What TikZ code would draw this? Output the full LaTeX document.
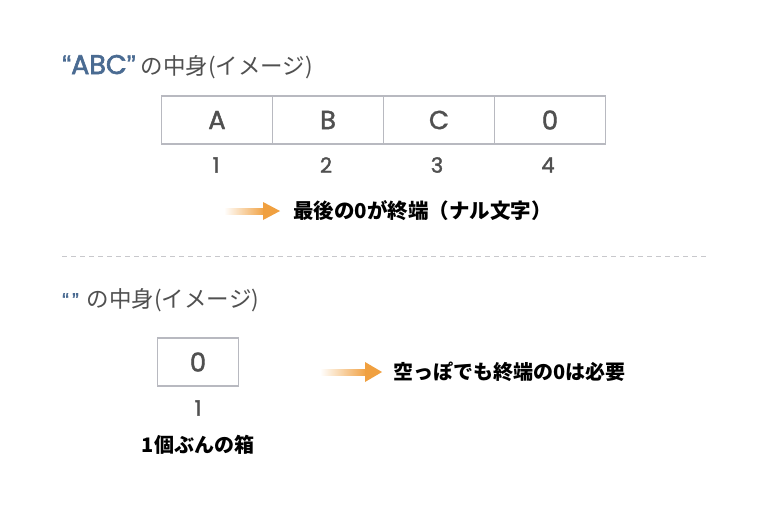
\documentclass[tikz,border=0pt]{standalone}
\usepackage{fontspec}
\setmainfont{Noto Sans CJK JP}
\newfontfamily\lat{Poppins}[FakeBold=1.6]
\newfontfamily\latb{Poppins}[FakeBold=2.2]
\newfontfamily\quo{Liberation Sans}[FakeBold=1.2]
\usetikzlibrary{calc}
\definecolor{tblue}{HTML}{4A6B92}
\definecolor{tgray}{HTML}{505050}
\definecolor{bgray}{HTML}{B8B9C0}
\definecolor{aorange}{HTML}{F0A040}
\definecolor{dgray}{HTML}{C8C8CC}
\tikzset{
  cell/.style={draw=bgray, line width=1.3pt, fill=white, minimum width=111pt, minimum height=48pt, inner sep=0pt, font=\lat\fontsize{26}{26}\selectfont, text=tgray},
  idx/.style={font=\lat\fontsize{21}{21}\selectfont, text=tgray, inner sep=0pt},
  note/.style={font=\bfseries\fontsize{20.5}{20.5}\selectfont, text=black, inner sep=0pt, anchor=west},
  ttl/.style={font=\fontsize{22.5}{22.5}\selectfont, text=tgray, inner sep=0pt, anchor=base west},
}
\begin{document}
\begin{tikzpicture}[x=1pt,y=-1pt]
\useasboundingbox[fill=white] (0,0) rectangle (768,512);
% title 1
\node[ttl] (t1) at (62,74) {{\color{tblue}{\quo\fontsize{27}{27}\selectfont“}{\latb\fontsize{27}{27}\selectfont ABC}{\quo\fontsize{27}{27}\selectfont”}}\hspace{5pt}の中身(イメージ)};
% cells
\node[cell] (cA) at (217,120) {A};
\node[cell] (cB) at (328,120) {B};
\node[cell] (cC) at (439,120) {C};
\node[cell] (c0) at (550,120) {0};
\node[idx] (i1) at (216,165) {1};
\node[idx] (i2) at (326,165) {2};
\node[idx] (i3) at (437,165) {3};
\node[idx] (i4) at (548,165) {4};
% arrow 1
\coordinate (a1s) at (224,211);
\coordinate (a1e) at (280,211);
\shade[left color=white, right color=aorange] ($(a1s)+(0,-3)$) rectangle ($(a1e)+(-15,3)$);
\fill[aorange] ($(a1e)+(-17,-9)$) -- (a1e) -- ($(a1e)+(-17,9)$) -- cycle;
\node[note] (n1) at (293,211) {最後の0が終端（ナル文字）};
% divider
\coordinate (d1) at (62,256);
\coordinate (d2) at (706,256);
\draw[dgray, line width=1pt, dash pattern=on 5pt off 4pt] (d1) -- (d2);
% title 2
\node[ttl] (t2) at (62,307) {{\quo\fontsize{20}{20}\selectfont\color{tblue}“\,”}\hspace{8pt}の中身(イメージ)};
% single cell
\node[cell, minimum width=81pt] (e0) at (198,362) {0};
\node[idx] (ei) at (198,408) {1};
\node[font=\bfseries\fontsize{20}{20}\selectfont, inner sep=0pt] (ec) at (198,445) {1個ぶんの箱};
% arrow 2
\coordinate (a2s) at (320,372);
\coordinate (a2e) at (382,372);
\shade[left color=white, right color=aorange] ($(a2s)+(0,-3)$) rectangle ($(a2e)+(-15,3)$);
\fill[aorange] ($(a2e)+(-17,-10)$) -- (a2e) -- ($(a2e)+(-17,10)$) -- cycle;
\node[note, font=\bfseries\fontsize{20}{20}\selectfont] (n2) at (393,372) {空っぽでも終端の0は必要};
\end{tikzpicture}
\end{document}
